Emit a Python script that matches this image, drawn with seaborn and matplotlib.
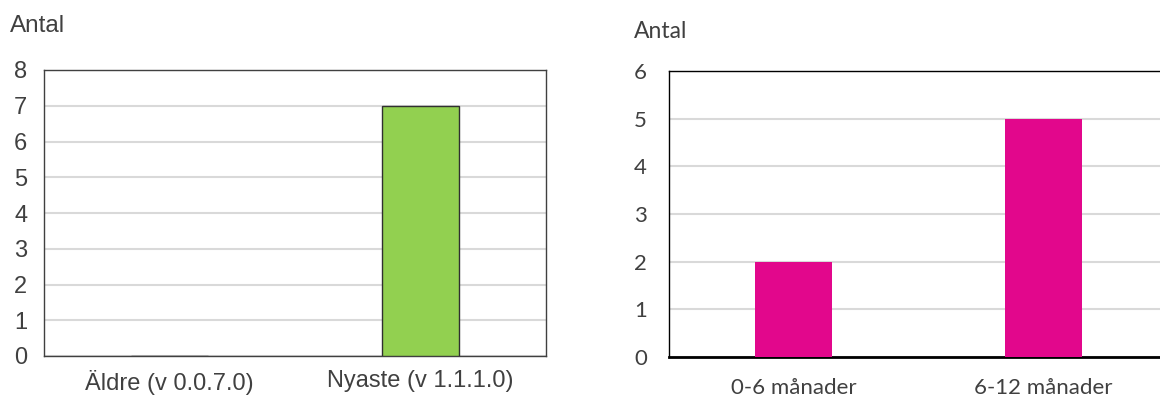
import matplotlib
matplotlib.use("Agg")
import matplotlib.pyplot as plt
import seaborn as sns
import pandas as pd

# Data
version_labels = ["Äldre (v 0.0.7.0)", "Nyaste (v 1.1.1.0)"]
version_counts = [0, 7]
age_labels = ["0-6 månader", "6-12 månader"]
age_counts = [2, 5]

sns.set_theme(style="white")

fig = plt.figure(figsize=(11.6, 3.96), dpi=100)
W, H = 1160, 396

grid_color = "#d9d9d9"
text_color = "#404040"

# Left chart: versions
ax1 = fig.add_axes([44 / W, 1 - 356 / H, 502 / W, 286 / H])
df1 = pd.DataFrame({"kategori": version_labels, "antal": version_counts})
sns.barplot(data=df1, x="kategori", y="antal", color="#92d050",
            width=0.31, edgecolor="#303030", linewidth=1.0, saturation=1,
            ax=ax1, zorder=3)
ax1.set_xlim(-0.5, 1.5)
ax1.set_ylim(0, 8)
ax1.set_yticks(range(0, 9))
ax1.yaxis.grid(True, color=grid_color, linewidth=1.5, zorder=0)
ax1.set_axisbelow(True)
for s in ax1.spines.values():
    s.set_visible(True)
    s.set_color("#404040")
    s.set_linewidth(1.0)
ax1.set_xlabel("")
ax1.set_ylabel("")
ax1.tick_params(axis="both", length=0, labelcolor=text_color)
ax1.tick_params(axis="y", pad=12)
ax1.tick_params(axis="x", pad=10)
for lab in ax1.get_xticklabels() + ax1.get_yticklabels():
    lab.set_fontfamily("Liberation Sans")
    lab.set_fontsize(17)
fig.text(10 / W, 1 - 32 / H, "Antal", fontfamily="Liberation Sans",
         fontsize=17.5, color=text_color, ha="left", va="baseline")

# Right chart: age
ax2 = fig.add_axes([669 / W, 1 - 357 / H, 499 / W, 286 / H])
df2 = pd.DataFrame({"kategori": age_labels, "antal": age_counts})
sns.barplot(data=df2, x="kategori", y="antal", color="#e2078c",
            width=0.31, linewidth=0, saturation=1, ax=ax2, zorder=3)
ax2.set_xlim(-0.5, 1.5)
ax2.set_ylim(0, 6)
ax2.set_yticks(range(0, 7))
ax2.yaxis.grid(True, color=grid_color, linewidth=1.5, zorder=0)
ax2.set_axisbelow(True)
for name, s in ax2.spines.items():
    s.set_visible(True)
    s.set_color("black")
    s.set_linewidth(1.0)
ax2.spines["bottom"].set_linewidth(2.0)
ax2.set_xlabel("")
ax2.set_ylabel("")
ax2.tick_params(axis="both", length=0, labelcolor=text_color)
ax2.tick_params(axis="y", pad=16)
ax2.tick_params(axis="x", pad=15)
for lab in ax2.get_xticklabels() + ax2.get_yticklabels():
    lab.set_fontfamily("Lato")
    lab.set_fontsize(16)
fig.text(634 / W, 1 - 38 / H, "Antal", fontfamily="Lato",
         fontsize=16.5, color=text_color, ha="left", va="baseline")

fig.savefig("out.png", dpi=100)
